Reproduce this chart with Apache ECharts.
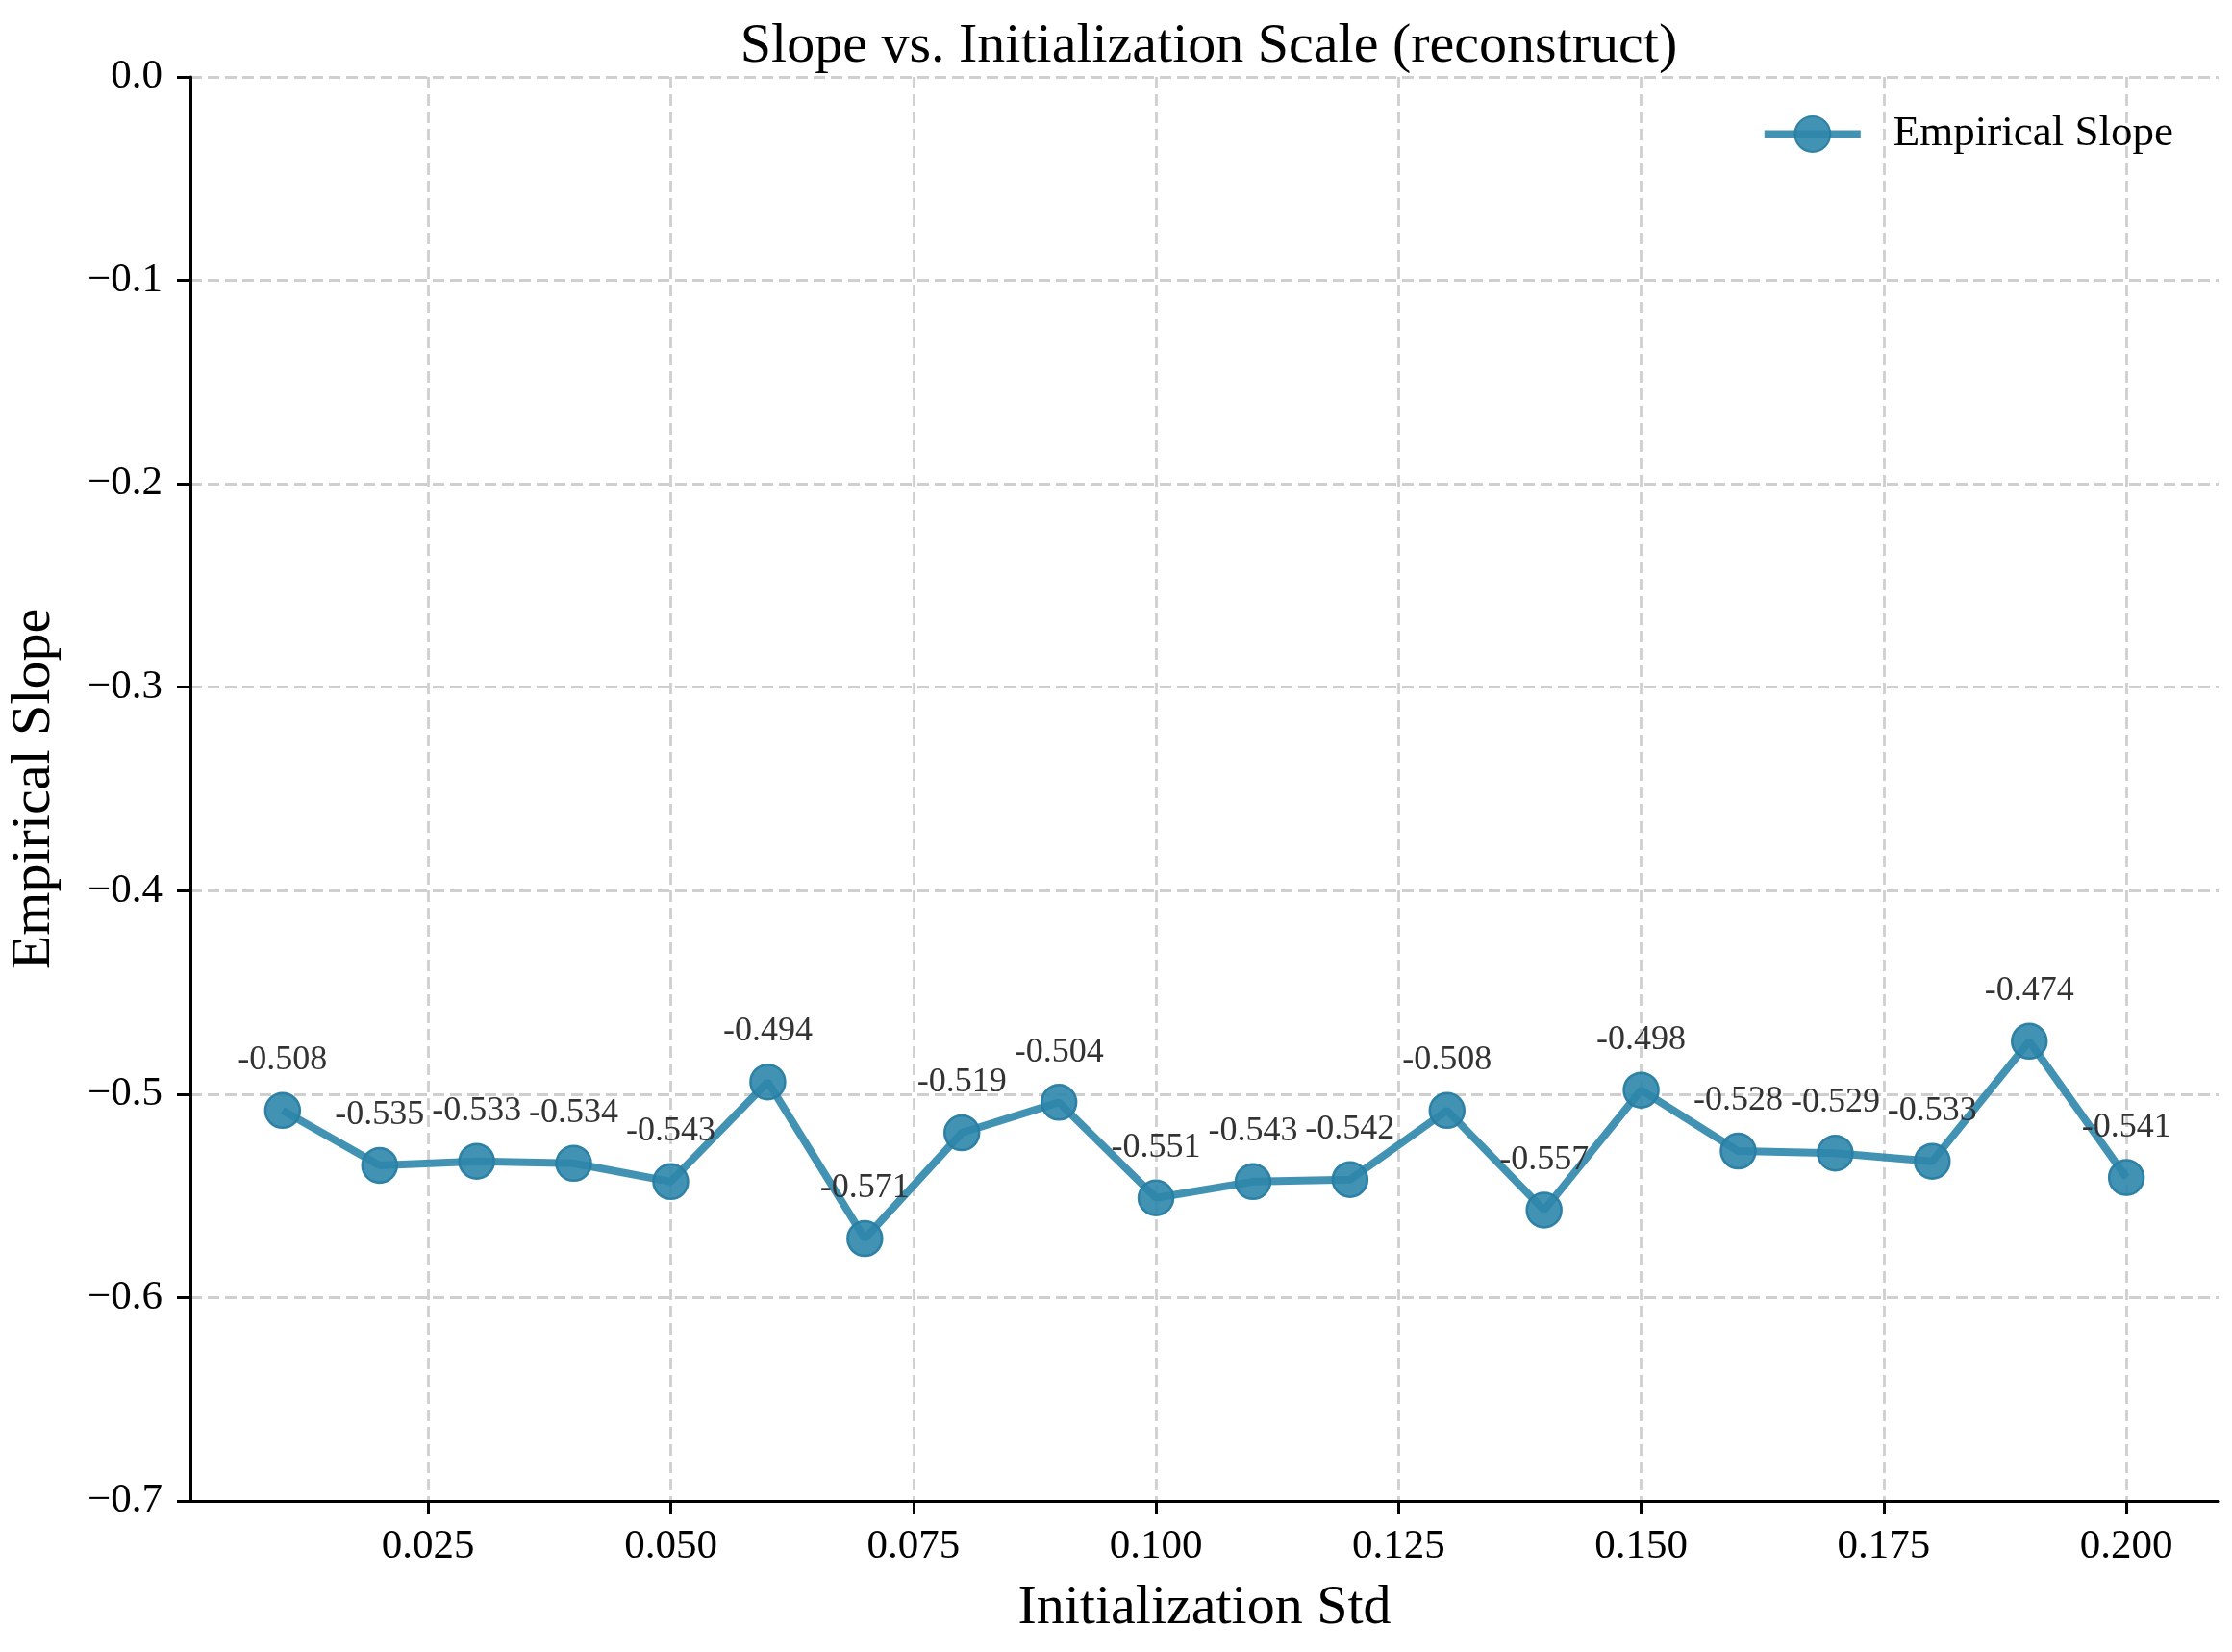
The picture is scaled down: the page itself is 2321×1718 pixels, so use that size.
<!DOCTYPE html>
<html><head><meta charset="utf-8">
<script src="https://cdn.jsdelivr.net/npm/echarts@6/dist/echarts.min.js"></script>
<style>html,body{margin:0;padding:0;background:#fff}#c{width:2321px;height:1718px}</style>
</head><body><div id="c"></div>
<script>
const initStd = [0.01,0.02,0.03,0.04,0.05,0.06,0.07,0.08,0.09,0.10,0.11,0.12,0.13,0.14,0.15,0.16,0.17,0.18,0.19,0.20];
const slopes = [-0.508,-0.535,-0.533,-0.534,-0.543,-0.494,-0.571,-0.519,-0.504,-0.551,-0.543,-0.542,-0.508,-0.557,-0.498,-0.528,-0.529,-0.533,-0.474,-0.541];
const xTicks = [0.025,0.05,0.075,0.1,0.125,0.15,0.175,0.2];
const xTickLabels = ['0.025','0.050','0.075','0.100','0.125','0.150','0.175','0.200'];

const FONT = '"Liberation Serif","Times New Roman",serif';
const chart = echarts.init(document.getElementById('c'));
const data = initStd.map((x,i)=>[x, slopes[i]]);
const lineColor = 'rgba(46,134,171,0.9)';
const gridLine = {show:true,lineStyle:{color:'#cfcfcf',width:2.8,type:[12,6]}};
chart.setOption({
  animation:false,
  backgroundColor:'#fff',
  title:{text:'Slope vs. Initialization Scale (reconstruct)',left:1252,top:15,textAlign:'center',
    textStyle:{fontFamily:FONT,fontSize:58,fontWeight:'normal',color:'#000'}},
  legend:{right:56,top:112,itemWidth:100,itemHeight:46,itemGap:20,
    lineStyle:{width:8,color:lineColor},
    itemStyle:{color:lineColor},
    textStyle:{fontFamily:FONT,fontSize:45,color:'#000',padding:[0,0,0,29]},
    data:['Empirical Slope']},
  grid:{left:198,right:14,top:80,bottom:157,containLabel:false,outerBoundsMode:'none'},
  xAxis:{type:'value',min:0.0005,max:0.2095,
    name:'Initialization Std',nameLocation:'middle',nameGap:83,
    nameTextStyle:{fontFamily:FONT,fontSize:58,color:'#000'},
    axisLine:{show:true,onZero:false,lineStyle:{color:'#000',width:3}},
    axisTick:{show:true,length:14,lineStyle:{color:'#000',width:3},customValues:xTicks},
    axisLabel:{fontFamily:FONT,fontSize:43,color:'#000',margin:26,customValues:xTicks,
      formatter:v=>{const i=xTicks.findIndex(t=>Math.abs(t-v)<1e-9);return i>=0?xTickLabels[i]:'';}},
    splitLine:gridLine},
  yAxis:{type:'value',min:-0.7,max:0,interval:0.1,
    name:'Empirical Slope',nameLocation:'middle',nameGap:133,nameRotate:90,
    nameTextStyle:{fontFamily:FONT,fontSize:58,color:'#000'},
    axisLine:{show:true,onZero:false,lineStyle:{color:'#000',width:3}},
    axisTick:{show:true,length:14,lineStyle:{color:'#000',width:3}},
    axisLabel:{fontFamily:FONT,fontSize:43,color:'#000',margin:29,
      formatter:v=>v.toFixed(1).replace('-','\u2212')},
    splitLine:gridLine},
  series:[{name:'Empirical Slope',type:'line',data:data,
    symbol:'circle',symbolSize:36,
    lineStyle:{color:lineColor,width:8},
    itemStyle:{color:lineColor,borderColor:'rgba(40,125,162,0.95)',borderWidth:2.5},
    label:{show:true,position:'top',distance:15,fontFamily:FONT,fontSize:36,color:'#333',
      formatter:p=>p.value[1].toFixed(3)},
    z:3}]
});
</script></body></html>
